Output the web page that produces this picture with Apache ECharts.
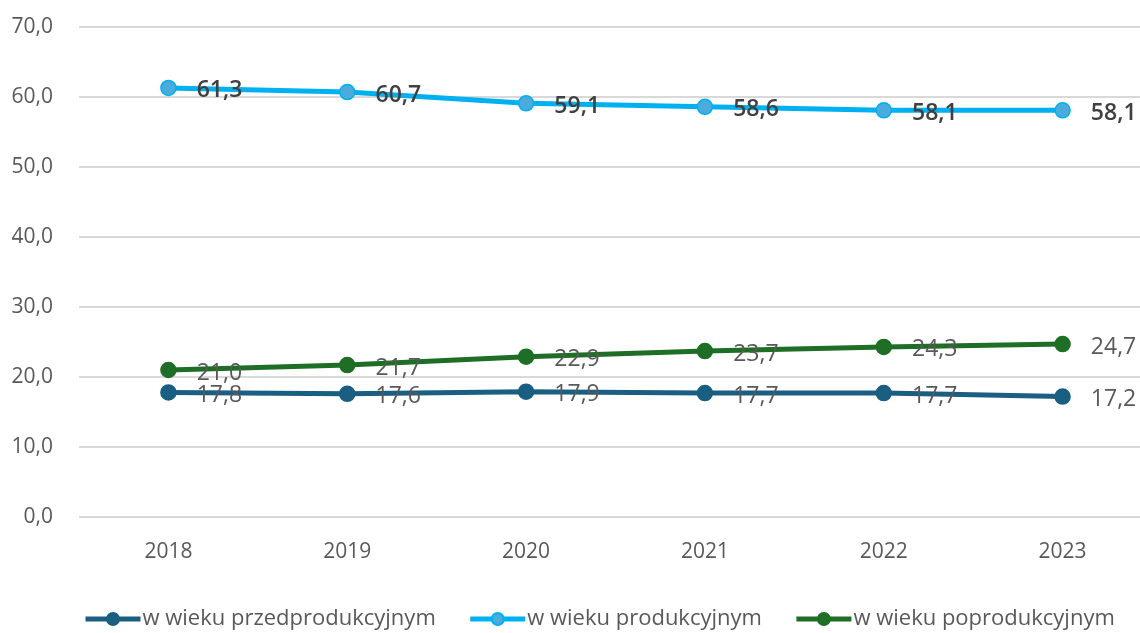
<!DOCTYPE html>
<html>
<head>
<meta charset="utf-8">
<script src="https://cdn.jsdelivr.net/npm/echarts@6/dist/echarts.min.js"></script>
<style>
  html, body { margin: 0; padding: 0; background: #fff; }
  #chart { width: 1140px; height: 633px; }
</style>
</head>
<body>
<div id="chart"></div>
<script>
  // lata
  var years = ['2018', '2019', '2020', '2021', '2022', '2023'];
  // udział grup wieku (%)
  var przedprodukcyjny = [17.8, 17.6, 17.9, 17.7, 17.7, 17.2];
  var produkcyjny = [61.3, 60.7, 59.1, 58.6, 58.1, 58.1];
  var poprodukcyjny = [21.0, 21.7, 22.9, 23.7, 24.3, 24.7];
  var seriesNames = ['w wieku przedprodukcyjnym', 'w wieku produkcyjnym', 'w wieku poprodukcyjnym'];

  var font = '"Open Sans", "Noto Sans", sans-serif';
  function fmt(v) { return Number(v).toFixed(1).replace('.', ','); }

  function makeSeries(name, data, lineColor, dotColor, labelColor, weight) {
    return {
      name: name,
      type: 'line',
      data: data,
      symbol: 'circle',
      symbolSize: 15,
      lineStyle: { color: lineColor, width: 5 },
      itemStyle: { color: dotColor, borderColor: lineColor, borderWidth: 1.5 },
      label: {
        show: true,
        position: 'right',
        offset: [15, 3],
        color: labelColor,
        fontSize: 23,
        fontWeight: weight,
        fontFamily: font,
        formatter: function (p) { return fmt(p.value); }
      },
      emphasis: { disabled: true },
      animation: false
    };
  }

  var myChart = echarts.init(document.getElementById('chart'));
  myChart.setOption({
    backgroundColor: '#fff',
    grid: { left: 79, top: 27, width: 1073, height: 490, containLabel: false, outerBoundsMode: 'none' },
    legend: {
      bottom: -2,
      left: 78,
      itemWidth: 55,
      itemHeight: 15,
      itemGap: 32,
      lineStyle: { width: 5 },
      textStyle: { color: '#595959', fontSize: 22, fontFamily: font, padding: [0, 0, 0, -3] },
      data: seriesNames
    },
    xAxis: {
      type: 'category',
      data: years,
      boundaryGap: true,
      axisLine: { show: false },
      axisTick: { show: false },
      axisLabel: { color: '#595959', fontSize: 21, fontFamily: font, margin: 25 },
      splitLine: { show: false }
    },
    yAxis: {
      type: 'value',
      min: 0,
      max: 70,
      interval: 10,
      axisLine: { show: false },
      axisTick: { show: false },
      axisLabel: { color: '#595959', fontSize: 21, fontFamily: font, margin: 26, formatter: fmt },
      splitLine: { lineStyle: { color: '#d9d9d9', width: 2 } }
    },
    series: [
      makeSeries(seriesNames[0], przedprodukcyjny, '#1a5e82', '#1a5e82', '#595959', 'normal'),
      makeSeries(seriesNames[1], produkcyjny, '#00b0f0', '#4aabdc', '#404040', 600),
      makeSeries(seriesNames[2], poprodukcyjny, '#1e6e26', '#1e6e26', '#595959', 'normal')
    ]
  });
</script>
</body>
</html>
